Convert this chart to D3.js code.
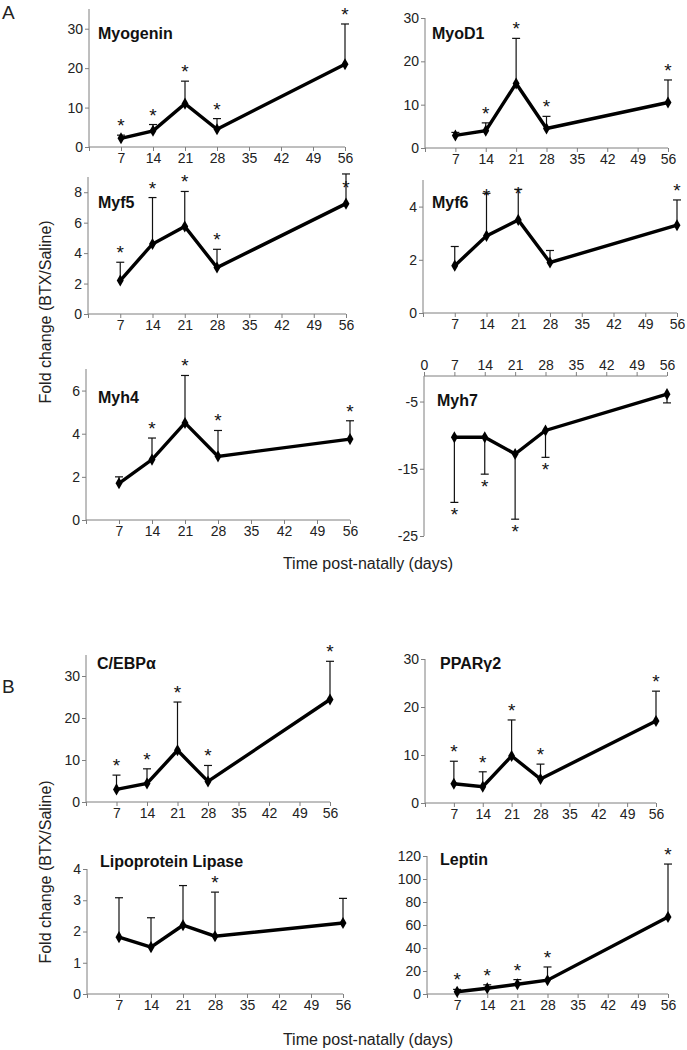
<!DOCTYPE html>
<html><head><meta charset="utf-8">
<script src="https://cdn.jsdelivr.net/npm/d3@7"></script>
<style>
body{margin:0;background:#fff;}
text{font-family:"Liberation Sans",Arial,sans-serif;}
</style></head>
<body><svg id="c" width="687" height="1050"></svg>
<script>
// ---- data ----
const days = [7, 14, 21, 28, 56];
const xTicks = [0, 7, 14, 21, 28, 35, 42, 49, 56];

const myogeninMean = [2.2, 4.1, 11.0, 4.5, 21.0];
const myogeninErr  = [3.0, 5.7, 16.7, 7.2, 31.2];
const myogeninStar = [1, 1, 1, 1, 1];

const myod1Mean = [2.9, 4.0, 14.9, 4.5, 10.5];
const myod1Err  = [3.6, 5.8, 25.3, 7.3, 15.7];
const myod1Star = [0, 1, 1, 1, 1];

const myf5Mean = [2.2, 4.6, 5.75, 3.05, 7.25];
const myf5Err  = [3.4, 7.65, 8.05, 4.25, 9.2];
const myf5Star = [1, 1, 1, 1, 1];

const myf6Mean = [1.78, 2.9, 3.5, 1.9, 3.3];
const myf6Err  = [2.5, 4.5, 4.65, 2.35, 4.25];
const myf6Star = [0, 1, 1, 0, 1];

const myh4Mean = [1.7, 2.8, 4.5, 2.95, 3.75];
const myh4Err  = [2.0, 3.8, 6.7, 4.15, 4.6];
const myh4Star = [0, 1, 1, 1, 1];

const myh7Mean = [-10.3, -10.3, -12.8, -9.3, -3.9];
const myh7Err  = [-20.0, -15.8, -22.5, -13.3, -5.2];
const myh7Star = [1, 1, 1, 1, 0];

const cebpaMean = [3.0, 4.4, 12.3, 4.9, 24.4];
const cebpaErr  = [6.4, 7.9, 23.8, 8.7, 33.5];
const cebpaStar = [1, 1, 1, 1, 1];

const pparMean = [4.0, 3.4, 9.8, 5.0, 17.1];
const pparErr  = [8.7, 6.5, 17.3, 8.1, 23.3];
const pparStar = [1, 1, 1, 1, 1];

const lplMean = [1.82, 1.5, 2.2, 1.85, 2.27];
const lplErr  = [3.08, 2.44, 3.47, 3.26, 3.06];
const lplStar = [0, 0, 0, 1, 0];

const leptinMean = [2.0, 5.0, 8.5, 12.0, 67.0];
const leptinErr  = [4.0, 8.0, 12.5, 23.5, 113.0];
const leptinStar = [1, 1, 1, 1, 1];

const titles = ["Myogenin", "MyoD1", "Myf5", "Myf6", "Myh4", "Myh7",
                "C/EBPα", "PPARγ2", "Lipoprotein Lipase", "Leptin"];
const yTicksList = [[0,10,20,30],[0,10,20,30],[0,2,4,6,8],[0,2,4],[0,2,4,6],[-5,-15,-25],
                    [0,10,20,30],[0,10,20,30],[0,1,2,3,4],[0,20,40,60,80,100,120]];
const yDomains = [[0,35],[0,30],[0,9],[0,5],[0,7],[-25,-1.2],[0,35],[0,30],[0,4],[0,120]];

// ---- layout (pixels) ----
const layout = [
  {x0:89,  x1:345, y0:147, y1:9,   tx:98,  ty:39},
  {x0:425, x1:668, y0:148, y1:18,  tx:432, ty:39},
  {x0:88,  x1:346, y0:314, y1:177, tx:98,  ty:208, starShift:{4:23}},
  {x0:423, x1:677, y0:313, y1:180, tx:432, ty:208, starShift:{1:12, 2:14}},
  {x0:86,  x1:350, y0:520, y1:369, tx:98,  ty:403},
  {x0:424, x1:667, y0:536, y1:376, tx:437, ty:406, inverted:true},
  {x0:86,  x1:330, y0:802, y1:655, tx:97,  ty:669},
  {x0:425, x1:656, y0:803, y1:659, tx:440, ty:669},
  {x0:87,  x1:343, y0:994, y1:869, tx:100, ty:867},
  {x0:427, x1:668, y0:994, y1:856, tx:440, ty:865}
];

const series = [
  [myogeninMean, myogeninErr, myogeninStar],
  [myod1Mean, myod1Err, myod1Star],
  [myf5Mean, myf5Err, myf5Star],
  [myf6Mean, myf6Err, myf6Star],
  [myh4Mean, myh4Err, myh4Star],
  [myh7Mean, myh7Err, myh7Star],
  [cebpaMean, cebpaErr, cebpaStar],
  [pparMean, pparErr, pparStar],
  [lplMean, lplErr, lplStar],
  [leptinMean, leptinErr, leptinStar]
];

const svg = d3.select("#c");
const axisColor = "#7f7f7f";
const tickTextColor = "#222";
const tickFont = "14px";

function drawPanel(i) {
  const L = layout[i];
  const [mean, err, star] = series[i];
  const x = d3.scaleLinear().domain([0, 56]).range([L.x0, L.x1]);
  const y = d3.scaleLinear().domain(yDomains[i]).range([L.y0, L.y1]);
  const g = svg.append("g");
  const axisY = L.inverted ? L.y1 : L.y0;

  // x axis
  const xa = L.inverted ? d3.axisTop(x) : d3.axisBottom(x);
  xa.tickValues(xTicks).tickSize(4).tickPadding(2)
    .tickFormat(d => (d === 0 && !L.inverted) ? "" : String(d));
  const gx = g.append("g").attr("transform", `translate(0,${axisY})`).call(xa);
  gx.select(".domain").attr("stroke", axisColor).attr("d", `M${L.x0},0H${L.x1}`);
  gx.selectAll(".tick line").attr("stroke", axisColor);
  gx.selectAll(".tick text").attr("fill", tickTextColor).style("font-size", tickFont);

  // y axis
  const ya = d3.axisLeft(y).tickValues(yTicksList[i]).tickSize(4).tickPadding(2)
    .tickFormat(d => String(d));
  const gy = g.append("g").attr("transform", `translate(${L.x0},0)`).call(ya);
  gy.select(".domain").attr("stroke", axisColor).attr("d", `M0,${L.y0}V${L.y1}`);
  gy.selectAll(".tick line").attr("stroke", axisColor);
  gy.selectAll(".tick text").attr("fill", tickTextColor).style("font-size", tickFont);

  // error bars
  const pts = days.map((d, k) => ({d, k, m: mean[k], e: err[k], s: star[k]}));
  g.selectAll(".eb").data(pts).enter().append("line")
    .attr("x1", p => x(p.d)).attr("x2", p => x(p.d))
    .attr("y1", p => y(p.m)).attr("y2", p => y(p.e))
    .attr("stroke", "#111").attr("stroke-width", 1.2);
  g.selectAll(".cap").data(pts).enter().append("line")
    .attr("x1", p => x(p.d) - 4).attr("x2", p => x(p.d) + 4)
    .attr("y1", p => y(p.e)).attr("y2", p => y(p.e))
    .attr("stroke", "#111").attr("stroke-width", 1.2);

  // line
  const line = d3.line().x(p => x(p.d)).y(p => y(p.m));
  g.append("path").datum(pts).attr("d", line)
    .attr("fill", "none").attr("stroke", "#000").attr("stroke-width", 3.4)
    .attr("stroke-linejoin", "miter");

  // markers
  g.selectAll(".mk").data(pts).enter().append("path")
    .attr("d", d3.symbol().type(d3.symbolDiamond).size(42))
    .attr("transform", p => `translate(${x(p.d)},${y(p.m)})`)
    .attr("fill", "#000");

  // stars
  const shift = L.starShift || {};
  g.selectAll(".st").data(pts.filter(p => p.s)).enter().append("text")
    .attr("x", p => x(p.d))
    .attr("y", p => (L.inverted ? y(p.e) + 19 : y(p.e) - 3) + (shift[p.k] || 0))
    .attr("text-anchor", "middle")
    .style("font-size", "19px").attr("fill", "#111")
    .text("*");

  // title
  g.append("text").attr("x", L.tx).attr("y", L.ty)
    .style("font-size", "16px").style("font-weight", "bold").attr("fill", "#111")
    .text(titles[i]);
}

for (let i = 0; i < 10; i++) drawPanel(i);

// panel letters and axis labels
svg.append("text").attr("x", 2).attr("y", 19).style("font-size", "19px").attr("fill", "#222").text("A");
svg.append("text").attr("x", 2).attr("y", 693).style("font-size", "19px").attr("fill", "#222").text("B");

const ylab = "Fold change (BTX/Saline)";
svg.append("text").attr("transform", "translate(51,312) rotate(-90)")
  .attr("text-anchor", "middle").style("font-size", "16px").attr("fill", "#222").text(ylab);
svg.append("text").attr("transform", "translate(51,872) rotate(-90)")
  .attr("text-anchor", "middle").style("font-size", "16px").attr("fill", "#222").text(ylab);

const xlab = "Time post-natally (days)";
svg.append("text").attr("x", 368).attr("y", 569).attr("text-anchor", "middle")
  .style("font-size", "16px").attr("fill", "#222").text(xlab);
svg.append("text").attr("x", 368).attr("y", 1045).attr("text-anchor", "middle")
  .style("font-size", "16px").attr("fill", "#222").text(xlab);
</script></body></html>
